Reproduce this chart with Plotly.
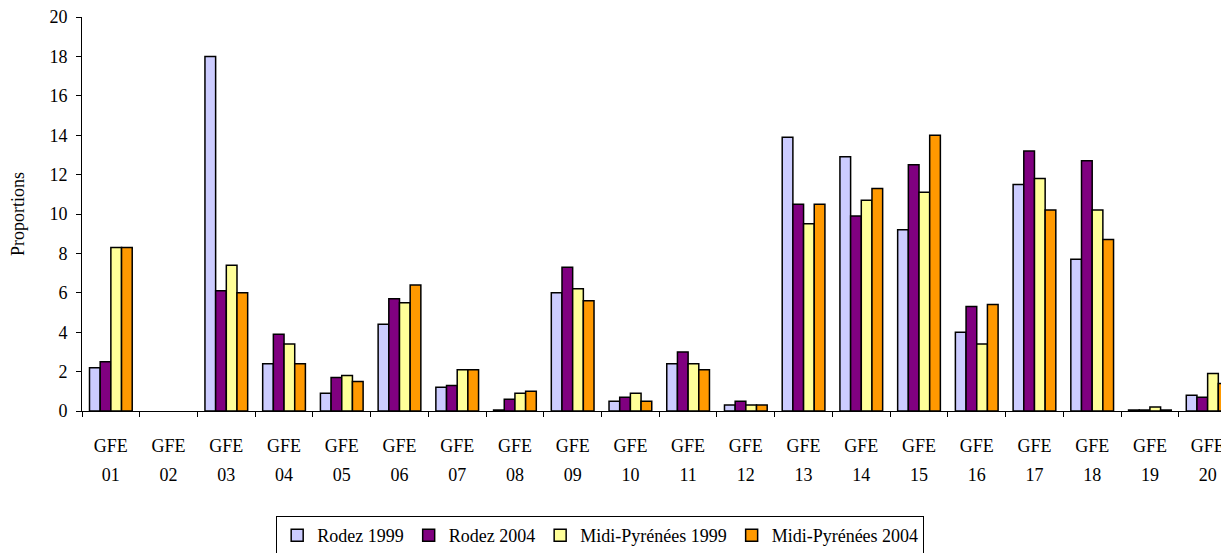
import plotly.graph_objects as go

GROUPS = [f"{i:02d}" for i in range(1, 21)]
PREFIX = "GFE"

RODEZ_1999 = [2.2, None, 18.0, 2.4, 0.9, 4.4, 1.2, 0.05, 6.0, 0.5,
              2.4, 0.3, 13.9, 12.9, 9.2, 4.0, 11.5, 7.7, 0.05, 0.8]
RODEZ_2004 = [2.5, None, 6.1, 3.9, 1.7, 5.7, 1.3, 0.6, 7.3, 0.7,
              3.0, 0.5, 10.5, 9.9, 12.5, 5.3, 13.2, 12.7, 0.05, 0.7]
MP_1999 = [8.3, None, 7.4, 3.4, 1.8, 5.5, 2.1, 0.9, 6.2, 0.9,
           2.4, 0.3, 9.5, 10.7, 11.1, 3.4, 11.8, 10.2, 0.2, 1.9]
MP_2004 = [8.3, None, 6.0, 2.4, 1.5, 6.4, 2.1, 1.0, 5.6, 0.5,
           2.1, 0.3, 10.5, 11.3, 14.0, 5.4, 10.2, 8.7, 0.05, 1.4]

SERIES = [
    ("Rodez 1999", RODEZ_1999, "#CCCCFF"),
    ("Rodez 2004", RODEZ_2004, "#800080"),
    ("Midi-Pyrénées 1999", MP_1999, "#FFFF99"),
    ("Midi-Pyrénées 2004", MP_2004, "#FF9900"),
]

FONT = "Liberation Serif, Times New Roman, serif"
X_RANGE = [-0.5, 19.37]
idx = list(range(len(GROUPS)))

fig = go.Figure()
for name, vals, color in SERIES:
    fig.add_trace(go.Bar(
        name=name, x=idx, y=vals,
        marker=dict(color=color, line=dict(color="black", width=1.5)),
    ))

# page body adds an 8px margin, so the figure is sized to fit what is visible
fig.update_layout(
    width=1221, height=545,
    barmode="group", bargap=0.26, bargroupgap=0,
    plot_bgcolor="white", paper_bgcolor="white",
    font=dict(family=FONT, size=18, color="black"),
    margin=dict(l=74, r=0, t=9, b=142, autoexpand=False),
    legend=dict(
        orientation="h", xref="container", yref="container",
        x=0.485, xanchor="center", y=0.068, yanchor="top",
        bordercolor="black", borderwidth=1, font=dict(family=FONT, size=18),
        itemwidth=30, tracegroupgap=0,
    ),
    xaxis=dict(
        range=X_RANGE, showline=True, linecolor="black", linewidth=1,
        tickmode="array", tickvals=idx, ticktext=[PREFIX] * len(GROUPS),
        ticks="", ticklabelstandoff=18, showgrid=False, zeroline=False,
        tickfont=dict(family=FONT, size=18), automargin=False,
        ticklabeloverflow="allow",
        minor=dict(tickmode="array", tickvals=[i - 0.5 for i in idx] + [19.5],
                   ticks="outside", ticklen=5, tickcolor="black"),
    ),
    xaxis2=dict(
        range=X_RANGE, overlaying="x", anchor="y", side="bottom",
        tickmode="array", tickvals=idx, ticktext=GROUPS,
        ticks="", ticklabelstandoff=51, showline=False, showgrid=False,
        zeroline=False, tickfont=dict(family=FONT, size=18), automargin=False,
        ticklabeloverflow="allow",
    ),
    yaxis=dict(
        range=[0, 20], dtick=2, showline=True, linecolor="black", linewidth=1,
        ticks="outside", ticklen=5, tickcolor="black", showgrid=False,
        zeroline=False, ticklabelstandoff=5, automargin=False,
        tickfont=dict(family=FONT, size=18), ticklabeloverflow="allow",
        title=dict(text="Proportions", font=dict(family=FONT, size=18), standoff=20),
    ),
)
# invisible trace so xaxis2 is drawn
fig.add_trace(go.Scatter(x=[0], y=[None], xaxis="x2", showlegend=False,
                         hoverinfo="skip"))

fig.write_html("out.html")
